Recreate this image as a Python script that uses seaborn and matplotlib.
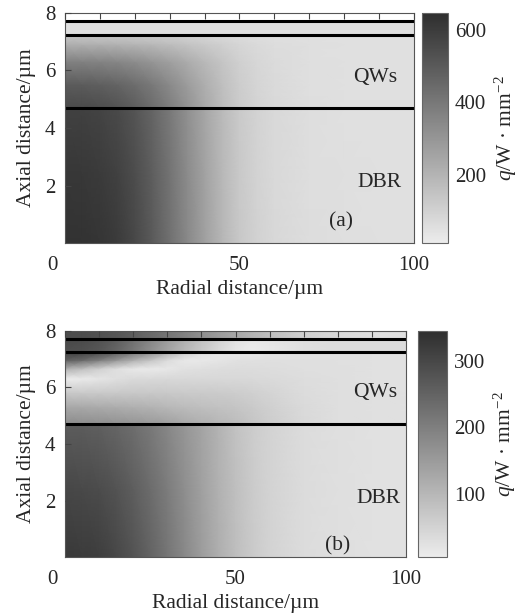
import numpy as np
import matplotlib
matplotlib.use("Agg")
import matplotlib.pyplot as plt
from matplotlib.ticker import MultipleLocator
from matplotlib.transforms import ScaledTranslation
import seaborn as sns

# radial sample positions (um), shared by every layer
radial_um = [0, 5, 10, 15, 20, 25, 30, 35, 40, 45, 50, 55, 60, 70, 80, 90, 100]

# layer interfaces (um) drawn as black lines
layer_bounds = [4.7, 7.23, 7.72]

# ---- panel (a) heat flux q (W/mm^2) ----
axial_a_dbr = [0.0, 2.4, 4.7]
q_a_dbr = [
    [634, 630, 620, 600, 560, 500, 427, 347, 267, 193, 133, 100, 80, 63, 56, 53, 53],
    [615, 611, 601, 581, 543, 486, 415, 337, 260, 188, 130, 98, 79, 62, 56, 53, 53],
    [585, 581, 571, 552, 516, 462, 395, 322, 248, 180, 125, 95, 77, 62, 55, 53, 53],
]
axial_a_qw = [4.7, 5.5, 6.3, 6.9, 7.23]
q_a_qw = [
    [555, 551, 542, 523, 490, 440, 378, 308, 238, 174, 122, 93, 76, 61, 55, 53, 53],
    [495, 491, 483, 466, 437, 395, 342, 282, 221, 165, 117, 90, 74, 60, 55, 53, 53],
    [370, 367, 360, 348, 330, 302, 268, 228, 186, 145, 107, 84, 70, 59, 54, 53, 53],
    [215, 213, 210, 205, 196, 183, 167, 147, 126, 105, 86, 73, 64, 57, 54, 53, 53],
    [133, 132, 131, 128, 123, 116, 107, 97, 86, 76, 67, 61, 57, 54, 53, 53, 53],
]
axial_a_cap = [7.23, 7.72]
q_a_cap = [
    [53, 53, 53, 53, 53, 53, 53, 53, 53, 53, 53, 53, 53, 53, 53, 53, 53],
    [53, 53, 53, 53, 53, 53, 53, 53, 53, 53, 53, 53, 53, 53, 53, 53, 53],
]

# ---- panel (b) heat flux q (W/mm^2) ----
axial_b_dbr = [0.0, 2.4, 4.7]
q_b_dbr = [
    [325, 322, 315, 300, 278, 250, 218, 183, 148, 116, 88, 66, 50, 35, 28, 26, 25],
    [300, 297, 291, 278, 259, 234, 205, 173, 141, 111, 85, 64, 49, 34, 28, 26, 25],
    [262, 260, 255, 245, 230, 210, 186, 160, 133, 106, 82, 63, 49, 34, 28, 26, 25],
]
axial_b_qw = [4.7, 5.3, 5.8, 6.3, 6.65, 6.95, 7.23]
q_b_qw = [
    [177, 176, 173, 168, 163, 155, 142, 127, 115, 103, 91, 75, 60, 40, 30, 27, 25],
    [127, 125, 121, 117, 112, 106, 99, 91, 86, 81, 76, 66, 55, 38, 30, 27, 25],
    [69, 68, 68, 68, 69, 69, 68, 66, 65, 64, 62, 55, 48, 35, 29, 27, 25],
    [5, 10, 18, 28, 37, 40, 41, 41, 41, 41, 41, 40, 38, 32, 28, 26, 25],
    [112, 85, 55, 28, 12, 10, 15, 26, 30, 32, 34, 33, 32, 30, 28, 26, 25],
    [255, 235, 200, 160, 112, 75, 35, 12, 12, 18, 26, 27, 28, 28, 27, 26, 25],
    [313, 308, 295, 258, 213, 170, 115, 62, 30, 14, 12, 14, 20, 26, 27, 26, 25],
]
axial_b_cap = [7.23, 7.72]
q_b_cap = [
    [284, 280, 268, 245, 212, 172, 133, 98, 68, 40, 16, 6, 14, 28, 34, 34, 33],
    [298, 294, 282, 260, 228, 190, 150, 115, 82, 52, 26, 12, 18, 30, 35, 35, 34],
]
axial_b_top = [7.72, 8.0]
q_b_top = [
    [290, 288, 282, 272, 258, 240, 218, 195, 172, 150, 128, 108, 88, 58, 40, 30, 27],
    [290, 288, 282, 272, 258, 240, 218, 195, 172, 150, 128, 108, 88, 58, 40, 30, 27],
]

sns.set_theme(style="white")
plt.rcParams['font.family'] = ['Liberation Serif', 'DejaVu Serif']
plt.rcParams['mathtext.fontset'] = 'custom'
plt.rcParams['mathtext.rm'] = 'Liberation Serif'
plt.rcParams['mathtext.it'] = 'Liberation Serif:italic'

cmap = sns.blend_palette(["#ececec", "#2e2e2e"], as_cmap=True)

fig = plt.figure(figsize=(5.22, 6.16), dpi=100)


def draw_panel(ax_rect, cax_rect, layers, vmin, vmax, cticks, cminor, tag, tag_xy, qw_xy, dbr_xy):
    ax = fig.add_axes(ax_rect)
    cax = fig.add_axes(cax_rect)
    mesh = None
    for axial, q in layers:
        R, Z = np.meshgrid(radial_um, axial)
        mesh = ax.pcolormesh(R, Z, np.array(q, dtype=float), shading='gouraud',
                             cmap=cmap, vmin=vmin, vmax=vmax)
    for yb in layer_bounds:
        ax.axhline(yb, color='black', lw=2.2)

    ax.set_xlim(0, 100)
    ax.set_ylim(0, 8)
    ax.set_axisbelow(False)
    ax.set_xticks([0, 50, 100])
    ax.xaxis.set_minor_locator(MultipleLocator(10))
    ax.set_yticks([2, 4, 6, 8])
    ax.tick_params(axis='x', which='both', direction='in', top=True, bottom=False,
                   length=4, width=0.8, color='#444', labelsize=15, pad=9)
    ax.tick_params(axis='y', which='both', direction='in', left=True,
                   length=4, width=0.8, color='#444', labelsize=15, pad=7)
    for s in ax.spines.values():
        s.set_linewidth(0.8)
        s.set_color('#555')
    ax.set_xlabel('Radial distance/µm', fontsize=15.5, labelpad=4)
    ax.set_ylabel('Axial distance/µm', fontsize=15.5, labelpad=6)

    # the "0" sits left of the corner in the original
    lab = ax.xaxis.get_major_ticks()[0].label1
    lab.set_transform(lab.get_transform() + ScaledTranslation(-0.13, 0, fig.dpi_scale_trans))

    ax.text(*qw_xy, 'QWs', fontsize=15.5, ha='center', va='center')
    ax.text(*dbr_xy, 'DBR', fontsize=15.5, ha='center', va='center')
    ax.text(*tag_xy, tag, fontsize=15.5, ha='center', va='center')

    cb = fig.colorbar(mesh, cax=cax)
    cb.set_ticks(cticks)
    cb.ax.yaxis.set_minor_locator(MultipleLocator(cminor))
    cb.outline.set_linewidth(0.8)
    cb.outline.set_edgecolor('#666')
    cb.ax.tick_params(which='both', direction='in', left=True, right=True,
                      length=3, width=0.8, color='#555', labelsize=15, pad=5)
    cb.set_label('$q$/W · mm$^{-2}$', fontsize=15.5, labelpad=5)
    return ax


draw_panel([0.1245, 0.605, 0.6686, 0.3747], [0.8075, 0.605, 0.0502, 0.3747],
           [(axial_a_dbr, q_a_dbr), (axial_a_qw, q_a_qw), (axial_a_cap, q_a_cap)],
           13, 647, [200, 400, 600], 100, '(a)', (79, 0.74), (89, 5.76), (90, 2.1))

draw_panel([0.1245, 0.0953, 0.6533, 0.3679], [0.8014, 0.0953, 0.055, 0.3679],
           [(axial_b_dbr, q_b_dbr), (axial_b_qw, q_b_qw), (axial_b_cap, q_b_cap),
            (axial_b_top, q_b_top)],
           5, 345, [100, 200, 300], 50, '(b)', (80, 0.41), (91, 5.8), (92, 2.06))

fig.savefig('out.png', dpi=100)
